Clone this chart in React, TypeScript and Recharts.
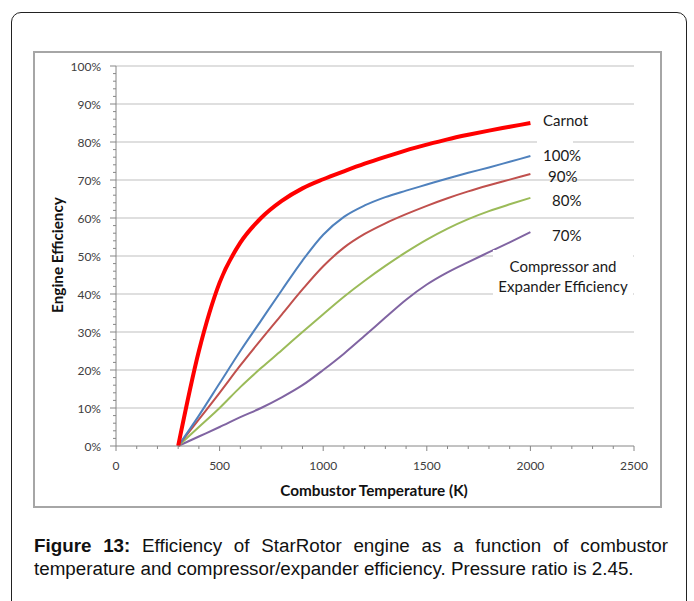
import { LineChart, Line, XAxis, YAxis, ReferenceLine } from 'recharts';

// Combustor temperature (K)
const temps = [300, 400, 500, 600, 700, 800, 900, 1000, 1100, 1200, 1300, 1400, 1500, 1600, 1700, 1800, 1900, 2000];

// engine efficiency (fraction)
const carnot = [0, 0.25, 0.43, 0.535, 0.6, 0.645, 0.678, 0.702, 0.723, 0.743, 0.761, 0.778, 0.793, 0.807, 0.819, 0.83, 0.84, 0.85];
const eff100 = [0, 0.08, 0.165, 0.25, 0.33, 0.41, 0.488, 0.556, 0.603, 0.633, 0.655, 0.672, 0.688, 0.704, 0.719, 0.733, 0.748, 0.763];
const eff90 = [0, 0.07, 0.14, 0.212, 0.28, 0.346, 0.412, 0.473, 0.522, 0.558, 0.586, 0.61, 0.632, 0.652, 0.67, 0.686, 0.701, 0.716];
const eff80 = [0, 0.05, 0.1, 0.155, 0.205, 0.252, 0.3, 0.347, 0.393, 0.435, 0.474, 0.51, 0.543, 0.572, 0.597, 0.618, 0.636, 0.653];
const eff70 = [0, 0.025, 0.05, 0.076, 0.1, 0.128, 0.16, 0.2, 0.243, 0.29, 0.338, 0.385, 0.425, 0.457, 0.484, 0.51, 0.536, 0.563];

const yMajor = [0, 0.1, 0.2, 0.3, 0.4, 0.5, 0.6, 0.7, 0.8, 0.9, 1];
const xTicks = Array.from({ length: 26 }, (_, i) => i * 100);
const yTicks = Array.from({ length: 51 }, (_, i) => Math.round(i * 2) / 100);

const data = temps.map((t, i) => ({
  t,
  carnot: carnot[i],
  e100: eff100[i],
  e90: eff90[i],
  e80: eff80[i],
  e70: eff70[i],
}));

const axisColor = '#868686';
const tickFont = 'Lato, "Open Sans", sans-serif';

function XTick({ x, y, payload }: any) {
  const v = payload.value;
  const major = v % 500 === 0;
  return (
    <g>
      <line x1={x} x2={x} y1={y} y2={y + (major ? 5 : 3)} stroke={axisColor} strokeWidth={1} />
      {major && (
        <text x={x} y={y + 19} textAnchor="middle" dominantBaseline="central" fontSize={12} fontFamily={tickFont} fill="#404040">
          {v}
        </text>
      )}
    </g>
  );
}

function YTick({ x, y, payload }: any) {
  const v = payload.value;
  const pct = Math.round(v * 100);
  const major = pct % 10 === 0;
  return (
    <g>
      <line x1={x} x2={x - (major ? 6 : 3)} y1={y} y2={y} stroke={axisColor} strokeWidth={1} />
      {major && (
        <text x={x - 15} y={y} textAnchor="end" dominantBaseline="central" fontSize={12} fontFamily={tickFont} fill="#404040">
          {pct + '%'}
        </text>
      )}
    </g>
  );
}

const labelStyle: React.CSSProperties = {
  position: 'absolute',
  fontFamily: tickFont,
  fontSize: 15,
  color: '#1a1a1a',
  lineHeight: '20px',
  whiteSpace: 'nowrap',
};

const titleStyle: React.CSSProperties = {
  position: 'absolute',
  fontFamily: tickFont,
  fontWeight: 700,
  fontSize: 15.3,
  color: '#111',
  whiteSpace: 'nowrap',
};

export default function App() {
  return (
    <div style={{ position: 'fixed', left: 0, top: 0, width: 694, height: 601, background: '#fff', overflow: 'hidden' }}>
      {/* outer rounded frame */}
      <div style={{ position: 'absolute', left: 11, top: 12, width: 676, height: 640, border: '1.5px solid #222', borderRadius: 10, boxSizing: 'border-box' }} />
      {/* chart frame */}
      <div style={{ position: 'absolute', left: 33, top: 51, width: 629, height: 457, border: '2px solid #a6a6a6', boxSizing: 'border-box' }} />

      <div style={{ position: 'absolute', left: 33, top: 51 }}>
        <LineChart width={629} height={456} data={data} margin={{ top: 15, right: 28, bottom: 0, left: 0 }}>
          {yMajor.slice(1).map((v) => (
            <ReferenceLine key={v} y={v} stroke="#d4d4d4" strokeWidth={1.3} />
          ))}
          <XAxis
            dataKey="t"
            type="number"
            domain={[0, 2500]}
            ticks={xTicks}
            interval={0}
            height={61}
            stroke={axisColor}
            tickLine={false}
            tickSize={0}
            tickMargin={0}
            tick={<XTick />}
          />
          <YAxis
            type="number"
            domain={[0, 1]}
            ticks={yTicks}
            interval={0}
            width={83}
            stroke={axisColor}
            tickLine={false}
            tickSize={0}
            tickMargin={0}
            tick={<YTick />}
          />
          <Line type="monotone" dataKey="e70" stroke="#8064A2" strokeWidth={2} dot={false} isAnimationActive={false} />
          <Line type="monotone" dataKey="e80" stroke="#9BBB59" strokeWidth={2} dot={false} isAnimationActive={false} />
          <Line type="monotone" dataKey="e90" stroke="#C0504D" strokeWidth={2} dot={false} isAnimationActive={false} />
          <Line type="monotone" dataKey="e100" stroke="#4F81BD" strokeWidth={2} dot={false} isAnimationActive={false} />
          <Line type="monotone" dataKey="carnot" stroke="#FF0000" strokeWidth={4} dot={false} isAnimationActive={false} />
        </LineChart>
      </div>

      {/* axis titles */}
      <div style={{ ...titleStyle, left: 57, top: 255, transform: 'translate(-50%, -50%) rotate(-90deg)' }}>
        Engine Efficiency
      </div>
      <div style={{ ...titleStyle, left: 374, top: 490, transform: 'translate(-50%, -50%)' }}>
        Combustor Temperature (K)
      </div>

      {/* series labels */}
      <div style={{ position: 'absolute', left: 537, top: 140, width: 36, height: 26, background: '#fff' }} />
      <div style={{ position: 'absolute', left: 493, top: 250, width: 140, height: 48, background: '#fff' }} />
      <div style={{ ...labelStyle, left: 543, top: 110 }}>Carnot</div>
      <div style={{ ...labelStyle, left: 543, top: 145 }}>100%</div>
      <div style={{ ...labelStyle, left: 548, top: 166 }}>90%</div>
      <div style={{ ...labelStyle, left: 552, top: 190 }}>80%</div>
      <div style={{ ...labelStyle, left: 552, top: 225 }}>70%</div>
      <div style={{ ...labelStyle, left: 563, top: 256, transform: 'translateX(-50%)' }}>Compressor and</div>
      <div style={{ ...labelStyle, left: 563, top: 276, transform: 'translateX(-50%)' }}>Expander Efficiency</div>

      {/* caption */}
      <div style={{ position: 'absolute', left: 34, top: 534, width: 634, fontFamily: '"Liberation Sans", Arial, sans-serif', fontSize: 18.8, lineHeight: '23px', color: '#111' }}>
        <div style={{ textAlign: 'justify', textAlignLast: 'justify', whiteSpace: 'nowrap' }}>
          <b>Figure 13:</b> Efficiency of StarRotor engine as a function of combustor
        </div>
        <div style={{ whiteSpace: 'nowrap' }}>temperature and compressor/expander efficiency. Pressure ratio is 2.45.</div>
      </div>
    </div>
  );
}
